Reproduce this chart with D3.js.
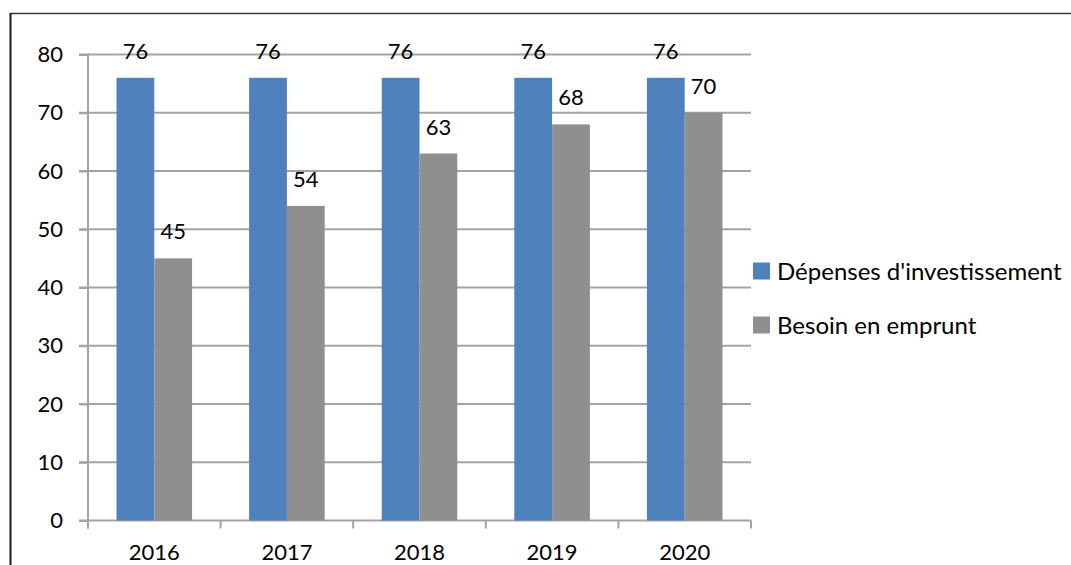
<!DOCTYPE html>
<html>
<head>
<meta charset="utf-8">
<script src="https://cdn.jsdelivr.net/npm/d3@7"></script>
<style>
  html, body { margin: 0; padding: 0; background: #ffffff; }
  svg { display: block; }
  text { font-family: Lato, "Open Sans", sans-serif; fill: #000; }
</style>
</head>
<body>
<svg id="chart" width="1071" height="565"></svg>
<script>
// Years on the category axis
const years = ["2016", "2017", "2018", "2019", "2020"];
// Capital expenditure per year
const depenses = [76, 76, 76, 76, 76];
// Borrowing requirement per year
const besoin = [45, 54, 63, 68, 70];
// Series names for the legend
const seriesNames = ["Dépenses d'investissement", "Besoin en emprunt"];
// Value axis ticks
const yTicks = [0, 10, 20, 30, 40, 50, 60, 70, 80];

const colors = ["#4f81bd", "#8f8f8f"];
const gridColor = "#a3a3a3";

const svg = d3.select("#chart");

// Outer frame (top and left edges)
svg.append("line").attr("x1", 10).attr("x2", 1071).attr("y1", 13.5).attr("y2", 13.5)
  .attr("stroke", "#3a3a3a").attr("stroke-width", 1.5);
svg.append("line").attr("x1", 10.5).attr("x2", 10.5).attr("y1", 13).attr("y2", 565)
  .attr("stroke", "#1a1a1a").attr("stroke-width", 2);

const margin = { left: 88, top: 54.5, right: 751, bottom: 520.5 };

const x = d3.scaleBand().domain(years)
  .range([margin.left, margin.right])
  .paddingInner(0.43).paddingOuter(0.215);

const y = d3.scaleLinear().domain([0, 80]).range([margin.bottom, margin.top]);

const g = svg.append("g");

// Horizontal gridlines
g.selectAll("line.grid").data(yTicks).join("line")
  .attr("class", "grid")
  .attr("x1", 79).attr("x2", margin.right)
  .attr("y1", d => y(d)).attr("y2", d => y(d))
  .attr("stroke", gridColor).attr("stroke-width", 2);

// Value axis
const yAxis = g.append("g")
  .attr("transform", `translate(${margin.left},0)`)
  .call(d3.axisLeft(y).tickValues(yTicks).tickSize(9).tickPadding(16));
yAxis.select(".domain").attr("stroke", gridColor).attr("stroke-width", 2)
  .attr("d", `M0,${margin.top}V${margin.bottom + 8}`);
yAxis.selectAll(".tick line").attr("stroke", gridColor).attr("stroke-width", 2);
yAxis.selectAll(".tick text")
  .attr("font-size", 22).attr("font-family", "Lato, sans-serif").attr("fill", "#000");

// Category boundary ticks on the base line
const step = x.step();
const bounds = d3.range(years.length + 1).map(i => margin.left + i * step);
g.selectAll("line.ctick").data(bounds).join("line")
  .attr("class", "ctick")
  .attr("x1", d => d).attr("x2", d => d)
  .attr("y1", margin.bottom).attr("y2", margin.bottom + 8)
  .attr("stroke", gridColor).attr("stroke-width", 2);

// Year labels
g.selectAll("text.year").data(years).join("text")
  .attr("class", "year")
  .attr("x", d => x(d) + x.bandwidth() / 2)
  .attr("y", 560)
  .attr("text-anchor", "middle")
  .attr("font-size", 22)
  .text(d => d);

// Grouped bars
const sub = d3.scaleBand().domain([0, 1]).range([0, x.bandwidth()]);
const series = [depenses, besoin];
series.forEach((vals, si) => {
  const data = years.map((yr, i) => ({ yr, v: vals[i] }));
  g.selectAll(`rect.s${si}`).data(data).join("rect")
    .attr("class", `s${si}`)
    .attr("x", d => x(d.yr) + sub(si))
    .attr("width", sub.bandwidth())
    .attr("y", d => y(d.v))
    .attr("height", d => y(0) - y(d.v))
    .attr("fill", colors[si]);
});

// Value labels above bars
series.forEach((vals, si) => {
  const data = years.map((yr, i) => ({ yr, v: vals[i] }));
  g.selectAll(`text.l${si}`).data(data).join("text")
    .attr("class", `l${si}`)
    .attr("x", d => x(d.yr) + sub(si) + sub.bandwidth() / 2)
    .attr("y", d => y(d.v) - 19)
    .attr("text-anchor", "middle")
    .attr("font-size", 22)
    .text(d => d.v);
});

// Legend
const legend = svg.append("g");
seriesNames.forEach((name, i) => {
  const cy = 271 + i * 54;
  legend.append("rect")
    .attr("x", 753).attr("y", cy - 8.5).attr("width", 17).attr("height", 17)
    .attr("fill", colors[i]);
  legend.append("text")
    .attr("x", 777).attr("y", cy + 8.5)
    .attr("font-size", 24)
    .text(name);
});
</script>
</body>
</html>
